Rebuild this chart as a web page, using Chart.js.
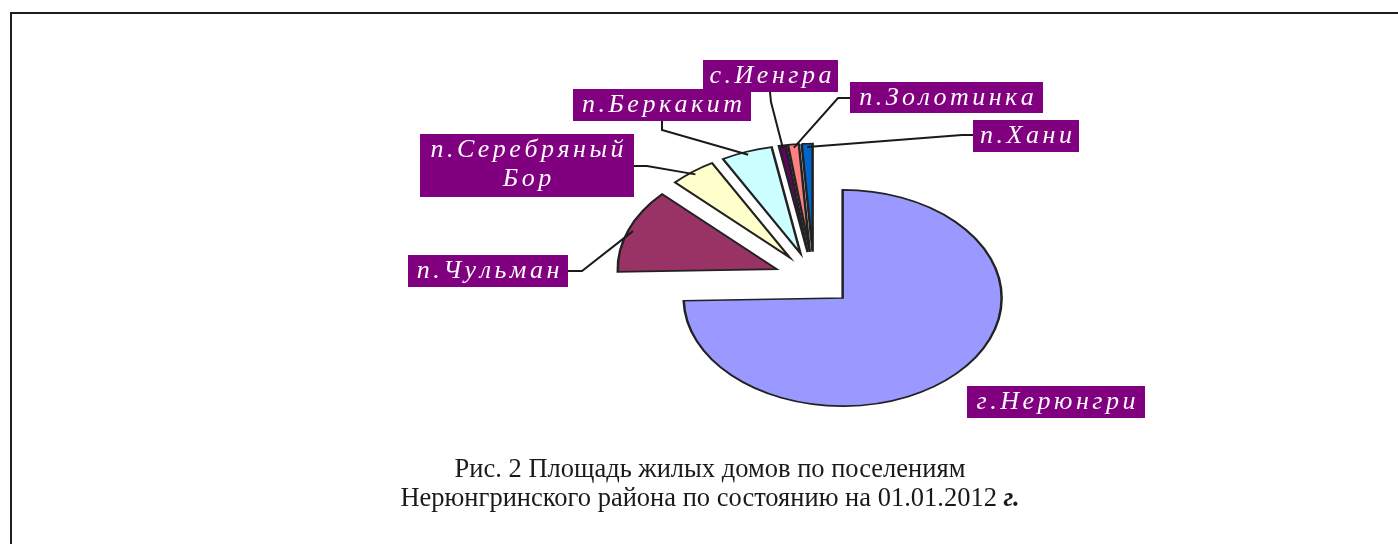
<!DOCTYPE html>
<html lang="ru">
<head>
<meta charset="utf-8">
<title>Площадь жилых домов по поселениям</title>
<script src="https://cdn.jsdelivr.net/npm/chart.js@4.4.1/dist/chart.umd.min.js"></script>
<style>
  html, body { margin: 0; padding: 0; background: #fff; }
  #wrap { position: relative; width: 1398px; height: 544px; overflow: hidden; }
  #frame {
    position: absolute; left: 10px; top: 12px; right: -10px; bottom: -10px;
    border-top: 2px solid #1e1e1e; border-left: 2px solid #1e1e1e;
  }
  canvas { position: absolute; left: 0; top: 0; }
</style>
</head>
<body>
<div id="wrap">
  <div id="frame"></div>
  <canvas id="pieChart" width="1398" height="544"></canvas>
</div>
<script>
// Residential floor area by settlement, share of district total (%)
const settlements = ['г.Нерюнгри', 'п.Чульман', 'п.Серебряный Бор', 'п.Беркакит', 'с.Иенгра', 'п.Золотинка', 'п.Хани'];
const areaShare = [74.6, 12.6, 4.7, 5.2, 0.7, 1.1, 1.1];
const sliceColors = ['#9999ff', '#993366', '#ffffcc', '#ccffff', '#660066', '#ff8080', '#0066cc'];

const captionLine1 = 'Рис. 2 Площадь жилых домов по поселениям';
const captionLine2 = 'Нерюнгринского района по состоянию на 01.01.2012 ';
const captionTail = 'г.';

// Label boxes [x, y, w, h] and leader line knee / end points (layout only)
const labelLayout = [
  { box: [967, 386, 178, 32] },
  { box: [408, 255, 160, 32], knee: [582, 271], end: [568, 271] },
  { box: [420, 134, 214, 63], knee: [647, 166], end: [634, 166] },
  { box: [573, 89, 178, 32], knee: [662, 130], end: [662, 121] },
  { box: [703, 60, 135, 32], knee: [771, 102], end: [770, 92] },
  { box: [850, 82, 193, 31], knee: [838, 98], end: [850, 98] },
  { box: [973, 120, 106, 32], knee: [962, 135], end: [973, 135] }
];

const RADIUS = 159;   // outer radius, px
const EXPLODE = 40;   // how far every slice is pulled out, px
const SQUASH = 0.68;  // vertical flattening of the pie
const LABEL_FONT = 'italic 26px "Liberation Serif", "Times New Roman", serif';
const LETTER_SPACING = 3.5;
const CAPTION_FONT = '26.5px "Liberation Serif", "Times New Roman", serif';
const CAPTION_TAIL_FONT = 'italic bold 26.5px "Liberation Serif", "Times New Roman", serif';

function pieCenterY(chart) {
  return (chart.chartArea.top + chart.chartArea.bottom) / 2;
}

// push every arc outward along its middle angle
const explodePlugin = {
  id: 'explode',
  afterDatasetUpdate(chart, args) {
    args.meta.data.forEach(arc => {
      const mid = (arc.startAngle + arc.endAngle) / 2;
      arc.x += Math.cos(mid) * EXPLODE;
      arc.y += Math.sin(mid) * EXPLODE;
    });
  }
};

// flatten the pie into an ellipse
const squashPlugin = {
  id: 'squash',
  beforeDatasetsDraw(chart) {
    const ctx = chart.ctx;
    const cy = pieCenterY(chart);
    ctx.save();
    ctx.translate(0, cy);
    ctx.scale(1, SQUASH);
    ctx.translate(0, -cy);
  },
  afterDatasetsDraw(chart) {
    chart.ctx.restore();
  }
};

function drawSpaced(ctx, text, cx, y) {
  const chars = [...text];
  const widths = chars.map(c => ctx.measureText(c).width);
  const total = widths.reduce((s, w) => s + w, 0) + LETTER_SPACING * (chars.length - 1);
  let x = cx - total / 2;
  chars.forEach((c, i) => {
    ctx.fillText(c, x, y);
    x += widths[i] + LETTER_SPACING;
  });
}

const labelPlugin = {
  id: 'sliceLabels',
  afterDraw(chart) {
    const ctx = chart.ctx;
    const cy = pieCenterY(chart);
    const arcs = chart.getDatasetMeta(0).data;

    ctx.save();
    arcs.forEach((arc, i) => {
      const lay = labelLayout[i];
      if (!lay.knee) return;
      const mid = (arc.startAngle + arc.endAngle) / 2;
      const r = arc.outerRadius * 0.97;
      const ax = arc.x + Math.cos(mid) * r;
      const ay = cy + (arc.y + Math.sin(mid) * r - cy) * SQUASH;
      ctx.beginPath();
      ctx.moveTo(ax, ay);
      ctx.lineTo(lay.knee[0], lay.knee[1]);
      ctx.lineTo(lay.end[0], lay.end[1]);
      ctx.strokeStyle = '#1a1a1a';
      ctx.lineWidth = 2;
      ctx.stroke();
    });

    ctx.font = LABEL_FONT;
    ctx.textBaseline = 'alphabetic';
    ctx.textAlign = 'left';
    settlements.forEach((name, i) => {
      const [x, y, w, h] = labelLayout[i].box;
      ctx.fillStyle = '#800080';
      ctx.fillRect(x, y, w, h);
      ctx.fillStyle = '#fbfbfb';
      const lines = name.split(' ');
      lines.forEach((line, j) => {
        drawSpaced(ctx, line, x + w / 2, y + 23 + j * 29);
      });
    });
    ctx.restore();

    // caption under the chart
    ctx.save();
    ctx.fillStyle = '#1a1a1a';
    ctx.textBaseline = 'alphabetic';
    ctx.textAlign = 'center';
    ctx.font = CAPTION_FONT;
    ctx.fillText(captionLine1, 710, 477);
    const w1 = ctx.measureText(captionLine2).width;
    ctx.font = CAPTION_TAIL_FONT;
    const w2 = ctx.measureText(captionTail).width;
    const startX = 710 - (w1 + w2) / 2;
    ctx.textAlign = 'left';
    ctx.fillText(captionTail, startX + w1, 506);
    ctx.font = CAPTION_FONT;
    ctx.fillText(captionLine2, startX, 506);
    ctx.restore();
  }
};

new Chart(document.getElementById('pieChart'), {
  type: 'pie',
  data: {
    labels: settlements,
    datasets: [{
      data: areaShare,
      backgroundColor: sliceColors,
      borderColor: '#222222',
      borderWidth: 2.5,
      borderJoinStyle: 'miter',
      radius: RADIUS,
      clip: false
    }]
  },
  options: {
    responsive: false,
    animation: false,
    events: [],
    layout: {
      padding: { left: 230, right: 0, top: 14, bottom: 0 }
    },
    plugins: {
      legend: { display: false },
      title: { display: false },
      tooltip: { enabled: false }
    }
  },
  plugins: [explodePlugin, squashPlugin, labelPlugin]
});
</script>
</body>
</html>
